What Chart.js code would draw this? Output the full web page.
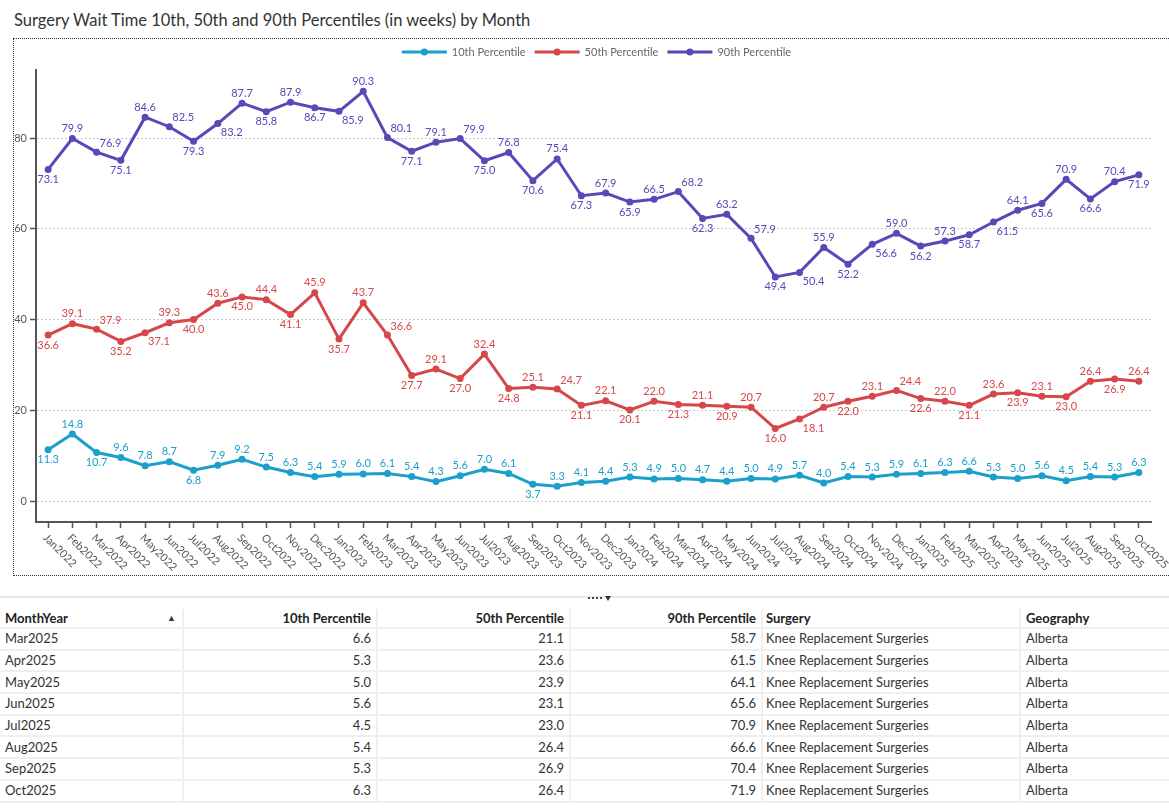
<!DOCTYPE html>
<html>
<head>
<meta charset="utf-8">
<title>Surgery Wait Time Percentiles</title>
<script src="https://cdn.jsdelivr.net/npm/chart.js@4.4.1/dist/chart.umd.min.js"></script>
<style>
  body { margin: 0; width: 1169px; height: 810px; overflow: hidden; background: #fff; font-family: Lato, "Noto Sans", sans-serif; color: #333; position: relative; }
  #title { position: absolute; left: 14px; top: 10px; font-size: 16.5px; color: #333; white-space: nowrap; }
  #frame { position: absolute; left: 13px; top: 38px; width: 1180px; height: 536px; border: 1px dotted #1c3d6e; }
  #chartBox { position: absolute; left: 14px; top: 39px; width: 1155px; height: 535px; }
  #splitter { position: absolute; left: 0; top: 596px; width: 1169px; height: 2px; background: #e8e8e8; }
  #handle { position: absolute; left: 588px; top: 596px; width: 24px; height: 4px; }
  #handle i { position: absolute; top: 1px; width: 2px; height: 2px; background: #444; }
  #handle b { position: absolute; left: 17px; top: 0; width: 0; height: 0; border-left: 3px solid transparent; border-right: 3px solid transparent; border-top: 5px solid #333; }
  table { position: absolute; left: 0; top: 609px; width: 1169px; border-collapse: collapse; table-layout: fixed; font-size: 13px; }
  th, td { height: 19.7px; padding: 0 5px; border-right: 2px solid #efefef; border-bottom: 2px solid #efefef; white-space: nowrap; line-height: 19px; }
  th { height: 18px; line-height: 18px; font-weight: bold; color: #222; }
  td { color: #333; }
  .num { text-align: right; }
  .txt { text-align: left; }
  th:last-child, td:last-child { border-right: none; }
  .sort { float: right; font-size: 9px; margin-right: 1px; color: #333; }
</style>
</head>
<body>
<div id="title">Surgery Wait Time 10th, 50th and 90th Percentiles (in weeks) by Month</div>
<div id="frame"></div>
<div id="chartBox"><canvas id="chart"></canvas></div>
<div id="splitter"></div>
<div id="handle"><i style="left:0"></i><i style="left:4px"></i><i style="left:8px"></i><i style="left:12px"></i><b></b></div>
<table id="grid"></table>

<script>
const months = ['Jan2022', 'Feb2022', 'Mar2022', 'Apr2022', 'May2022', 'Jun2022', 'Jul2022', 'Aug2022', 'Sep2022', 'Oct2022', 'Nov2022', 'Dec2022',
    'Jan2023', 'Feb2023', 'Mar2023', 'Apr2023', 'May2023', 'Jun2023', 'Jul2023', 'Aug2023', 'Sep2023', 'Oct2023', 'Nov2023', 'Dec2023',
    'Jan2024', 'Feb2024', 'Mar2024', 'Apr2024', 'May2024', 'Jun2024', 'Jul2024', 'Aug2024', 'Sep2024', 'Oct2024', 'Nov2024', 'Dec2024',
    'Jan2025', 'Feb2025', 'Mar2025', 'Apr2025', 'May2025', 'Jun2025', 'Jul2025', 'Aug2025', 'Sep2025', 'Oct2025'];

const p10 = [11.3, 14.8, 10.7, 9.6, 7.8, 8.7, 6.8, 7.9, 9.2, 7.5, 6.3, 5.4,
    5.9, 6.0, 6.1, 5.4, 4.3, 5.6, 7.0, 6.1, 3.7, 3.3, 4.1, 4.4,
    5.3, 4.9, 5.0, 4.7, 4.4, 5.0, 4.9, 5.7, 4.0, 5.4, 5.3, 5.9,
    6.1, 6.3, 6.6, 5.3, 5.0, 5.6, 4.5, 5.4, 5.3, 6.3];

const p50 = [36.6, 39.1, 37.9, 35.2, 37.1, 39.3, 40.0, 43.6, 45.0, 44.4, 41.1, 45.9,
    35.7, 43.7, 36.6, 27.7, 29.1, 27.0, 32.4, 24.8, 25.1, 24.7, 21.1, 22.1,
    20.1, 22.0, 21.3, 21.1, 20.9, 20.7, 16.0, 18.1, 20.7, 22.0, 23.1, 24.4,
    22.6, 22.0, 21.1, 23.6, 23.9, 23.1, 23.0, 26.4, 26.9, 26.4];

const p90 = [73.1, 79.9, 76.9, 75.1, 84.6, 82.5, 79.3, 83.2, 87.7, 85.8, 87.9, 86.7,
    85.9, 90.3, 80.1, 77.1, 79.1, 79.9, 75.0, 76.8, 70.6, 75.4, 67.3, 67.9,
    65.9, 66.5, 68.2, 62.3, 63.2, 57.9, 49.4, 50.4, 55.9, 52.2, 56.6, 59.0,
    56.2, 57.3, 58.7, 61.5, 64.1, 65.6, 70.9, 66.6, 70.4, 71.9];

const yTicks = [0, 20, 40, 60, 80];
const seriesNames = ['10th Percentile', '50th Percentile', '90th Percentile'];
const surgery = 'Knee Replacement Surgeries';
const geography = 'Alberta';
const tableRowCount = 8;

const colors = ['#1b9fcb', '#d6474a', '#5e45b8'];
const font = 'Lato';

    // Legend row: line with a dot, then the series name
const legendRow = {
    id: 'legendRow',
    afterDraw(chart) {
        const {ctx, chartArea} = chart;
        ctx.save();
        ctx.font = '11px ' + font;
        ctx.textBaseline = 'middle';
        const lineLen = 45, gapText = 5, gapItem = 9;
        const items = chart.data.datasets.map(ds => ({ds, w: ctx.measureText(ds.label).width}));
        const total = items.reduce((s, it) => s + lineLen + gapText + it.w, 0) + gapItem * (items.length - 1);
        let x = (chartArea.left + chartArea.right - total) / 2 + 3;
        const y = 13;
        items.forEach(it => {
            ctx.strokeStyle = it.ds.borderColor;
            ctx.fillStyle = it.ds.borderColor;
            ctx.lineWidth = 3;
            ctx.beginPath();
            ctx.moveTo(x, y);
            ctx.lineTo(x + lineLen, y);
            ctx.stroke();
            ctx.beginPath();
            ctx.arc(x + lineLen / 2, y, 3.5, 0, Math.PI * 2);
            ctx.fill();
            ctx.fillStyle = '#666';
            ctx.fillText(it.ds.label, x + lineLen + gapText, y);
            x += lineLen + gapText + it.w + gapItem;
        });
        ctx.restore();
    }
};

    // Month labels turned 45 degrees, reading down to the right
const slantedMonths = {
    id: 'slantedMonths',
    afterDraw(chart) {
        const {ctx} = chart;
        const xs = chart.scales.x;
        ctx.save();
        ctx.font = '11px ' + font;
        ctx.fillStyle = '#555';
        ctx.textAlign = 'left';
        ctx.textBaseline = 'middle';
        chart.data.labels.forEach((label, i) => {
            const x = xs.getPixelForTick(i);
            ctx.save();
            ctx.translate(x - 3, xs.top + 14);
            ctx.rotate(Math.PI / 4);
            ctx.fillText(label, 0, 0);
            ctx.restore();
        });
        ctx.restore();
    }
};

    // Value labels, put next to each point wherever they clash least
const valueLabels = {
    id: 'valueLabels',
    afterDatasetsDraw(chart) {
        const {ctx, chartArea} = chart;
        const lines = chart.data.datasets.map((ds, d) => chart.getDatasetMeta(d).data.map(p => ({x: p.x, y: p.y})));
        const placed = [];

        const lineHits = (l, t, r, b) => {
            let n = 0;
            lines.forEach(pts => {
                for (let x = l; x <= r; x += 1) {
                    for (let i = 0; i < pts.length - 1; i++) {
                        if (x >= pts[i].x && x <= pts[i + 1].x) {
                            const y = pts[i].y + (pts[i + 1].y - pts[i].y) * (x - pts[i].x) / (pts[i + 1].x - pts[i].x);
                            if (y >= t - 2 && y <= b + 2) n++;
                            break;
                        }
                    }
                }
            });
            return n;
        };

        ctx.save();
        ctx.font = '11px ' + font;
        ctx.textAlign = 'center';
        ctx.textBaseline = 'middle';
        chart.data.datasets.forEach((ds, d) => {
            ctx.fillStyle = ds.borderColor;
            lines[d].forEach((p, i) => {
                const txt = ds.data[i].toFixed(1);
                const w = ctx.measureText(txt).width;
                const spots = [
                    {dx: 0, dy: -10, cost: 0},
                    {dx: 0, dy: 10, cost: 0.5},
                    {dx: w / 2 + 3, dy: -9, cost: 3},
                    {dx: w / 2 + 3, dy: 9, cost: 3.5}
                ];
                let best = null;
                spots.forEach(s => {
                    const cx = p.x + s.dx, cy = p.y + s.dy;
                    const box = {l: cx - w / 2 - 1, r: cx + w / 2 + 1, t: cy - 5, b: cy + 5};
                    let pen = lineHits(box.l, box.t, box.r, box.b) + s.cost;
                    placed.forEach(q => {
                        if (box.l - 3 < q.r && box.r + 3 > q.l && box.t < q.b && box.b > q.t) pen += 100;
                    });
                    if (box.t < chartArea.top || box.b > chartArea.bottom || box.r > chartArea.right) pen += 1000;
                    if (!best || pen < best.pen) best = {pen, box, cx, cy};
                });
                placed.push(best.box);
                ctx.fillText(txt, best.cx, best.cy);
            });
        });
        ctx.restore();
    }
};

function makeSeries(label, data, color) {
    return {
        label: label,
        data: data,
        borderColor: color,
        backgroundColor: color,
        borderWidth: 3,
        pointRadius: 3.5,
        pointHoverRadius: 3.5,
        pointBorderWidth: 0,
        tension: 0
    };
}

function drawChart() {
    const chart = document.getElementById('chart').getContext('2d');

    new Chart(chart, {
        type: 'line',
        data: {
            labels: months,
            datasets: [
                makeSeries(seriesNames[0], p10, colors[0]),
                makeSeries(seriesNames[1], p50, colors[1]),
                makeSeries(seriesNames[2], p90, colors[2])
            ]
        },
        options: {
            responsive: true,
            maintainAspectRatio: false,
            animation: false,
            layout: { padding: { top: 31, right: 18, left: 0, bottom: 0 } },
            plugins: {
                legend: { display: false },
                tooltip: { enabled: false }
            },
            scales: {
                x: {
                    offset: true,
                    ticks: { display: false },
                    grid: { display: true, drawOnChartArea: false, drawTicks: true, tickLength: 6, tickColor: '#555', tickWidth: 1.5 },
                    border: { display: true, color: '#555', width: 2 },
                    afterFit(scale) { scale.height = 52; }
                },
                y: {
                    min: -4.6,
                    max: 95,
                    afterBuildTicks(scale) { scale.ticks = yTicks.map(v => ({value: v})); },
                    ticks: { color: '#555', font: { family: font, size: 11 }, padding: 3 },
                    grid: { color: '#c9c9c9', lineWidth: 1, tickLength: 6, tickColor: '#555', tickWidth: 1.5, tickBorderDash: [] },
                    border: { display: true, color: '#555', width: 2, dash: [2, 2] },
                    afterFit(scale) { scale.width = 22; }
                }
            }
        },
        plugins: [valueLabels, slantedMonths, legendRow]
    });
}

    // Detail table of the latest months
function buildTable() {
    const table = document.getElementById('grid');
    const widths = [183, 194, 193, 192, 258, 149];
    let html = '<colgroup>' + widths.map(w => '<col style="width:' + w + 'px">').join('') + '</colgroup>';
    html += '<tr><th class="txt">MonthYear<span class="sort">▲</span></th>'
        + seriesNames.map(n => '<th class="num">' + n + '</th>').join('')
        + '<th class="txt" style="padding-left:3px">Surgery</th><th class="txt">Geography</th></tr>';
    for (let i = months.length - tableRowCount; i < months.length; i++) {
        html += '<tr><td class="txt">' + months[i] + '</td>'
            + '<td class="num">' + p10[i].toFixed(1) + '</td>'
            + '<td class="num">' + p50[i].toFixed(1) + '</td>'
            + '<td class="num">' + p90[i].toFixed(1) + '</td>'
            + '<td class="txt" style="padding-left:3px">' + surgery + '</td>'
            + '<td class="txt">' + geography + '</td></tr>';
    }
    table.innerHTML = html;
}

buildTable();
document.fonts.load('11px ' + font).then(drawChart, drawChart);
</script>
</body>
</html>
